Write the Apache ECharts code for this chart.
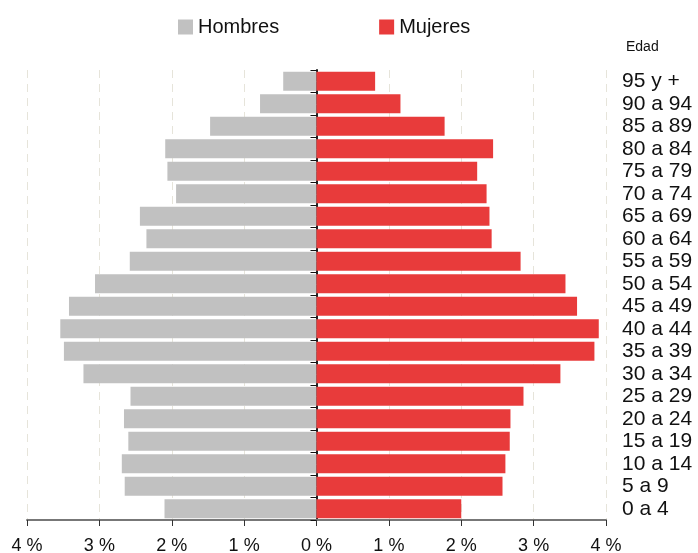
<!DOCTYPE html>
<html>
<head>
<meta charset="utf-8">
<script src="https://cdn.jsdelivr.net/npm/echarts@6/dist/echarts.min.js"></script>
<style>
  html, body { margin: 0; padding: 0; background: #fff; }
  #chart { width: 698px; height: 553px; }
</style>
</head>
<body>
<div id="chart"></div>
<script>
var ages = ['0 a 4', '5 a 9', '10 a 14', '15 a 19', '20 a 24', '25 a 29', '30 a 34',
  '35 a 39', '40 a 44', '45 a 49', '50 a 54', '55 a 59', '60 a 64', '65 a 69',
  '70 a 74', '75 a 79', '80 a 84', '85 a 89', '90 a 94', '95 y +'];

// percentages, bottom (0 a 4) to top (95 y +)
var hombres = [2.10, 2.65, 2.69, 2.60, 2.66, 2.57, 3.22, 3.49, 3.54, 3.42,
  3.06, 2.58, 2.35, 2.44, 1.94, 2.06, 2.09, 1.47, 0.78, 0.46];
var mujeres = [2.00, 2.57, 2.61, 2.67, 2.68, 2.86, 3.37, 3.84, 3.90, 3.60,
  3.44, 2.82, 2.42, 2.39, 2.35, 2.22, 2.44, 1.77, 1.16, 0.81];

var font = '"Liberation Sans", Arial, sans-serif';

var myChart = echarts.init(document.getElementById('chart'));

// the grid spans 27..606, so x = 0 sits 289.5px right of the left edge
var centreOffset = -289.5;

var option = {
  animation: false,
  textStyle: { fontFamily: font },
  title: {
    text: 'Edad',
    left: 621,
    top: 35,
    textStyle: { fontSize: 14, fontWeight: 'normal', color: '#111', fontFamily: font }
  },
  legend: {
    left: 173,
    top: 12,
    itemWidth: 15,
    itemHeight: 15,
    itemGap: 100,
    icon: 'rect',
    textStyle: { fontSize: 20, color: '#111', fontFamily: font },
    data: ['Hombres', 'Mujeres']
  },
  grid: { left: 27, right: 92, top: 70, bottom: 33, outerBoundsMode: 'none' },
  xAxis: {
    type: 'value',
    min: -4,
    max: 4,
    interval: 1,
    axisLine: { show: true, onZero: false, lineStyle: { color: '#777', width: 2 } },
    axisTick: { show: true, length: 6, lineStyle: { color: '#333' } },
    axisLabel: {
      fontSize: 18, color: '#111', margin: 17, fontFamily: font,
      formatter: function (v) { return Math.abs(v) + ' %'; }
    },
    splitLine: { show: true, lineStyle: { color: '#e6e4da', type: [8, 6], width: 1 } }
  },
  yAxis: [
    {
      // labels on the right
      type: 'category',
      data: ages,
      position: 'right',
      axisLine: { show: false },
      axisTick: { show: false },
      axisLabel: { interval: 0, fontSize: 21, color: '#111', margin: 16, align: 'left', fontFamily: font }
    },
    {
      // central axis, ticks at the boundaries
      type: 'category',
      data: ages,
      position: 'left',
      offset: centreOffset,
      axisLine: { show: true, onZero: false, lineStyle: { color: '#222', width: 2 } },
      axisTick: { show: true, interval: 0, length: 6, lineStyle: { color: '#111' } },
      axisLabel: { show: false }
    },
    {
      // central axis, ticks at the centres
      type: 'category',
      data: ages,
      position: 'left',
      offset: centreOffset,
      axisLine: { show: false, onZero: false },
      axisTick: { show: true, interval: 0, length: 5, alignWithLabel: true, lineStyle: { color: '#777' } },
      axisLabel: { show: false }
    }
  ],
  series: [
    {
      name: 'Hombres',
      type: 'bar',
      stack: 'p',
      yAxisIndex: 0,
      barCategoryGap: '16%',
      itemStyle: { color: '#c1c1c1' },
      data: hombres.map(function (v) { return -v; })
    },
    {
      name: 'Mujeres',
      type: 'bar',
      stack: 'p',
      yAxisIndex: 0,
      barCategoryGap: '16%',
      itemStyle: { color: '#e83b3b' },
      data: mujeres
    }
  ]
};

myChart.setOption(option);
</script>
</body>
</html>
